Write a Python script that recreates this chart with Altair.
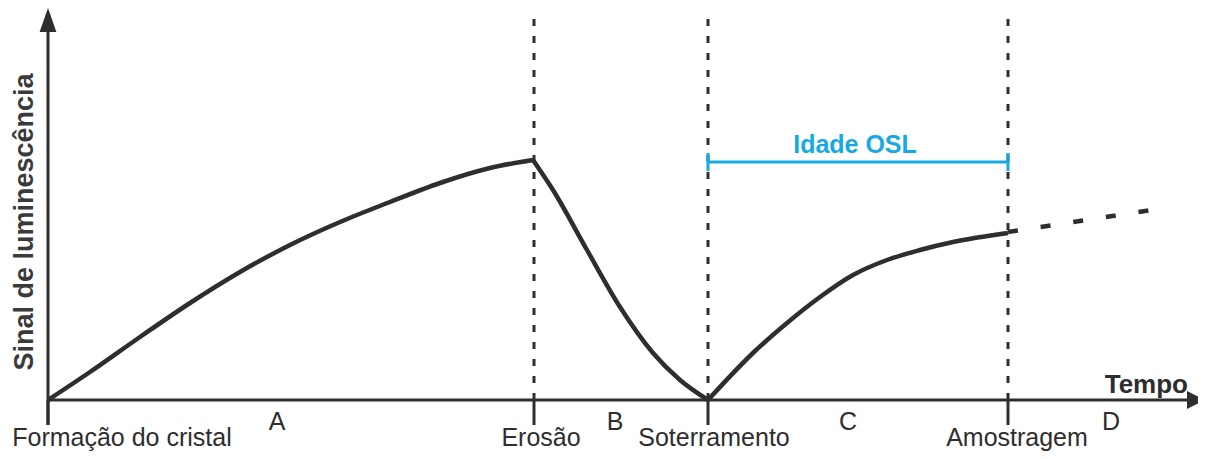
import altair as alt
import pandas as pd

# --- data (time units along x, signal units along y; 0 = origin of axes) ---
seg_A_t = [0, 42, 92, 142, 192, 242, 292, 342, 392, 442, 485]
seg_A_s = [0, 28, 63, 97, 128, 155, 178, 198, 217, 232, 240]
seg_B_t = [485, 505, 539, 572, 605, 632, 660]
seg_B_s = [240, 210, 150, 93, 47, 20, 0]
seg_C_t = [660, 705, 739, 772, 805, 839, 872, 905, 960]
seg_C_s = [0, 47, 77, 103, 125, 140, 150, 158, 167]
future_t = [960, 1117]
future_s = [168, 192]

events_t = [0, 486, 660, 960]
events_lab = ["Formação do cristal", "Erosão", "Soterramento", "Amostragem"]
events_lab_t = [74, 493, 666, 969]
phases_t = [229, 567, 800, 1063]
phases_lab = ["A", "B", "C", "D"]

osl_t = [660, 960]
osl_s = 238
osl_label = "Idade OSL"

xlab = "Tempo"
ylab = "Sinal de luminescência"

DARK = "#2e2e2e"
BLUE = "#18a9e2"
FONT = "Liberation Sans"

W, H = 1190, 443
X0, X1 = -40, 1150   # x domain
Y0, Y1 = -51, 392    # y domain

xs = alt.Scale(domain=[X0, X1], nice=False, zero=False)
ys = alt.Scale(domain=[Y0, Y1], nice=False, zero=False)

def X(f="x"):
    return alt.X(f"{f}:Q", scale=xs, axis=None)

def Y(f="y"):
    return alt.Y(f"{f}:Q", scale=ys, axis=None)

rows = []
for name, ts, ss in [("A", seg_A_t, seg_A_s), ("B", seg_B_t, seg_B_s), ("C", seg_C_t, seg_C_s)]:
    for i, (t, s) in enumerate(zip(ts, ss)):
        rows.append({"seg": name, "x": t, "y": s, "o": i})
curve_df = pd.DataFrame(rows)
future_df = pd.DataFrame({"x": future_t, "y": future_s})

curve = alt.Chart(curve_df).mark_line(color=DARK, strokeWidth=4.5, interpolate="monotone",
                                      strokeJoin="miter").encode(
    x=X(), y=Y(), detail="seg:N", order="o:Q")
future = alt.Chart(future_df).mark_line(color=DARK, strokeWidth=4.5, strokeDash=[10, 23]).encode(
    x=X(), y=Y())

# axes
yaxis = alt.Chart(pd.DataFrame({"x": [0], "y": [-25], "y2": [372]})).mark_rule(
    color=DARK, strokeWidth=3).encode(x=X(), y=Y(), y2="y2:Q")
xaxis = alt.Chart(pd.DataFrame({"x": [0], "x2": [1142], "y": [0]})).mark_rule(
    color=DARK, strokeWidth=3).encode(x=X(), x2="x2:Q", y=Y())
arrow_up = alt.Chart(pd.DataFrame({"x": [0], "y": [380]})).mark_point(
    shape="M0,-1L0.7,1L-0.7,1Z", size=576, filled=True, opacity=1, color=DARK).encode(x=X(), y=Y())
arrow_right = alt.Chart(pd.DataFrame({"x": [1148], "y": [0]})).mark_point(
    shape="M1,0L-1,-1L-1,1Z", size=324, filled=True, opacity=1, color=DARK).encode(x=X(), y=Y())

ticks = alt.Chart(pd.DataFrame({"x": events_t, "y": [0] * 4, "y2": [-25] * 4})).mark_rule(
    color=DARK, strokeWidth=3).encode(x=X(), y=Y(), y2="y2:Q")
vdash = alt.Chart(pd.DataFrame({"x": events_t[1:], "y": [0] * 3, "y2": [389] * 3})).mark_rule(
    color=DARK, strokeWidth=3, strokeDash=[7, 10]).encode(x=X(), y=Y(), y2="y2:Q")

ev_text = alt.Chart(pd.DataFrame({"x": events_lab_t, "y": [-46] * 4, "lab": events_lab})).mark_text(
    font=FONT, fontSize=25, color=DARK, baseline="alphabetic", align="center").encode(
    x=X(), y=Y(), text="lab:N")

ph_text = alt.Chart(pd.DataFrame({"x": phases_t, "y": [-30] * 4, "lab": phases_lab})).mark_text(
    font=FONT, fontSize=25, color=DARK, baseline="alphabetic", align="center").encode(
    x=X(), y=Y(), text="lab:N")

osl_rule = alt.Chart(pd.DataFrame({"x": [osl_t[0]], "x2": [osl_t[1]], "y": [osl_s]})).mark_rule(
    color=BLUE, strokeWidth=3).encode(x=X(), x2="x2:Q", y=Y())
osl_caps = alt.Chart(pd.DataFrame({"x": osl_t, "y": [osl_s - 9] * 2, "y2": [osl_s + 9] * 2})).mark_rule(
    color=BLUE, strokeWidth=3).encode(x=X(), y=Y(), y2="y2:Q")
osl_text = alt.Chart(pd.DataFrame({"x": [(osl_t[0] + osl_t[1]) / 2 - 3], "y": [osl_s + 9], "lab": [osl_label]})).mark_text(
    font=FONT, fontSize=25, fontWeight="bold", color=BLUE, baseline="alphabetic", align="center").encode(
    x=X(), y=Y(), text="lab:N")

xlab_text = alt.Chart(pd.DataFrame({"x": [1140], "y": [7], "lab": [xlab]})).mark_text(
    font=FONT, fontSize=26, fontWeight="bold", color=DARK, baseline="alphabetic", align="right").encode(
    x=X(), y=Y(), text="lab:N")
ylab_text = alt.Chart(pd.DataFrame({"x": [-15], "y": [178], "lab": [ylab]})).mark_text(
    font=FONT, fontSize=27, fontWeight="bold", color="#3a3a3a", baseline="alphabetic", align="center",
    angle=270).encode(x=X(), y=Y(), text="lab:N")

chart = alt.layer(
    vdash, xaxis, yaxis, ticks, arrow_up, arrow_right, curve, future,
    osl_rule, osl_caps, osl_text, ev_text, ph_text, xlab_text, ylab_text
).properties(width=W, height=H, padding=0, autosize=alt.AutoSizeParams(type="none")
).configure_view(stroke=None)

chart.save("out.html", embed_options={"renderer": "svg", "actions": False})
